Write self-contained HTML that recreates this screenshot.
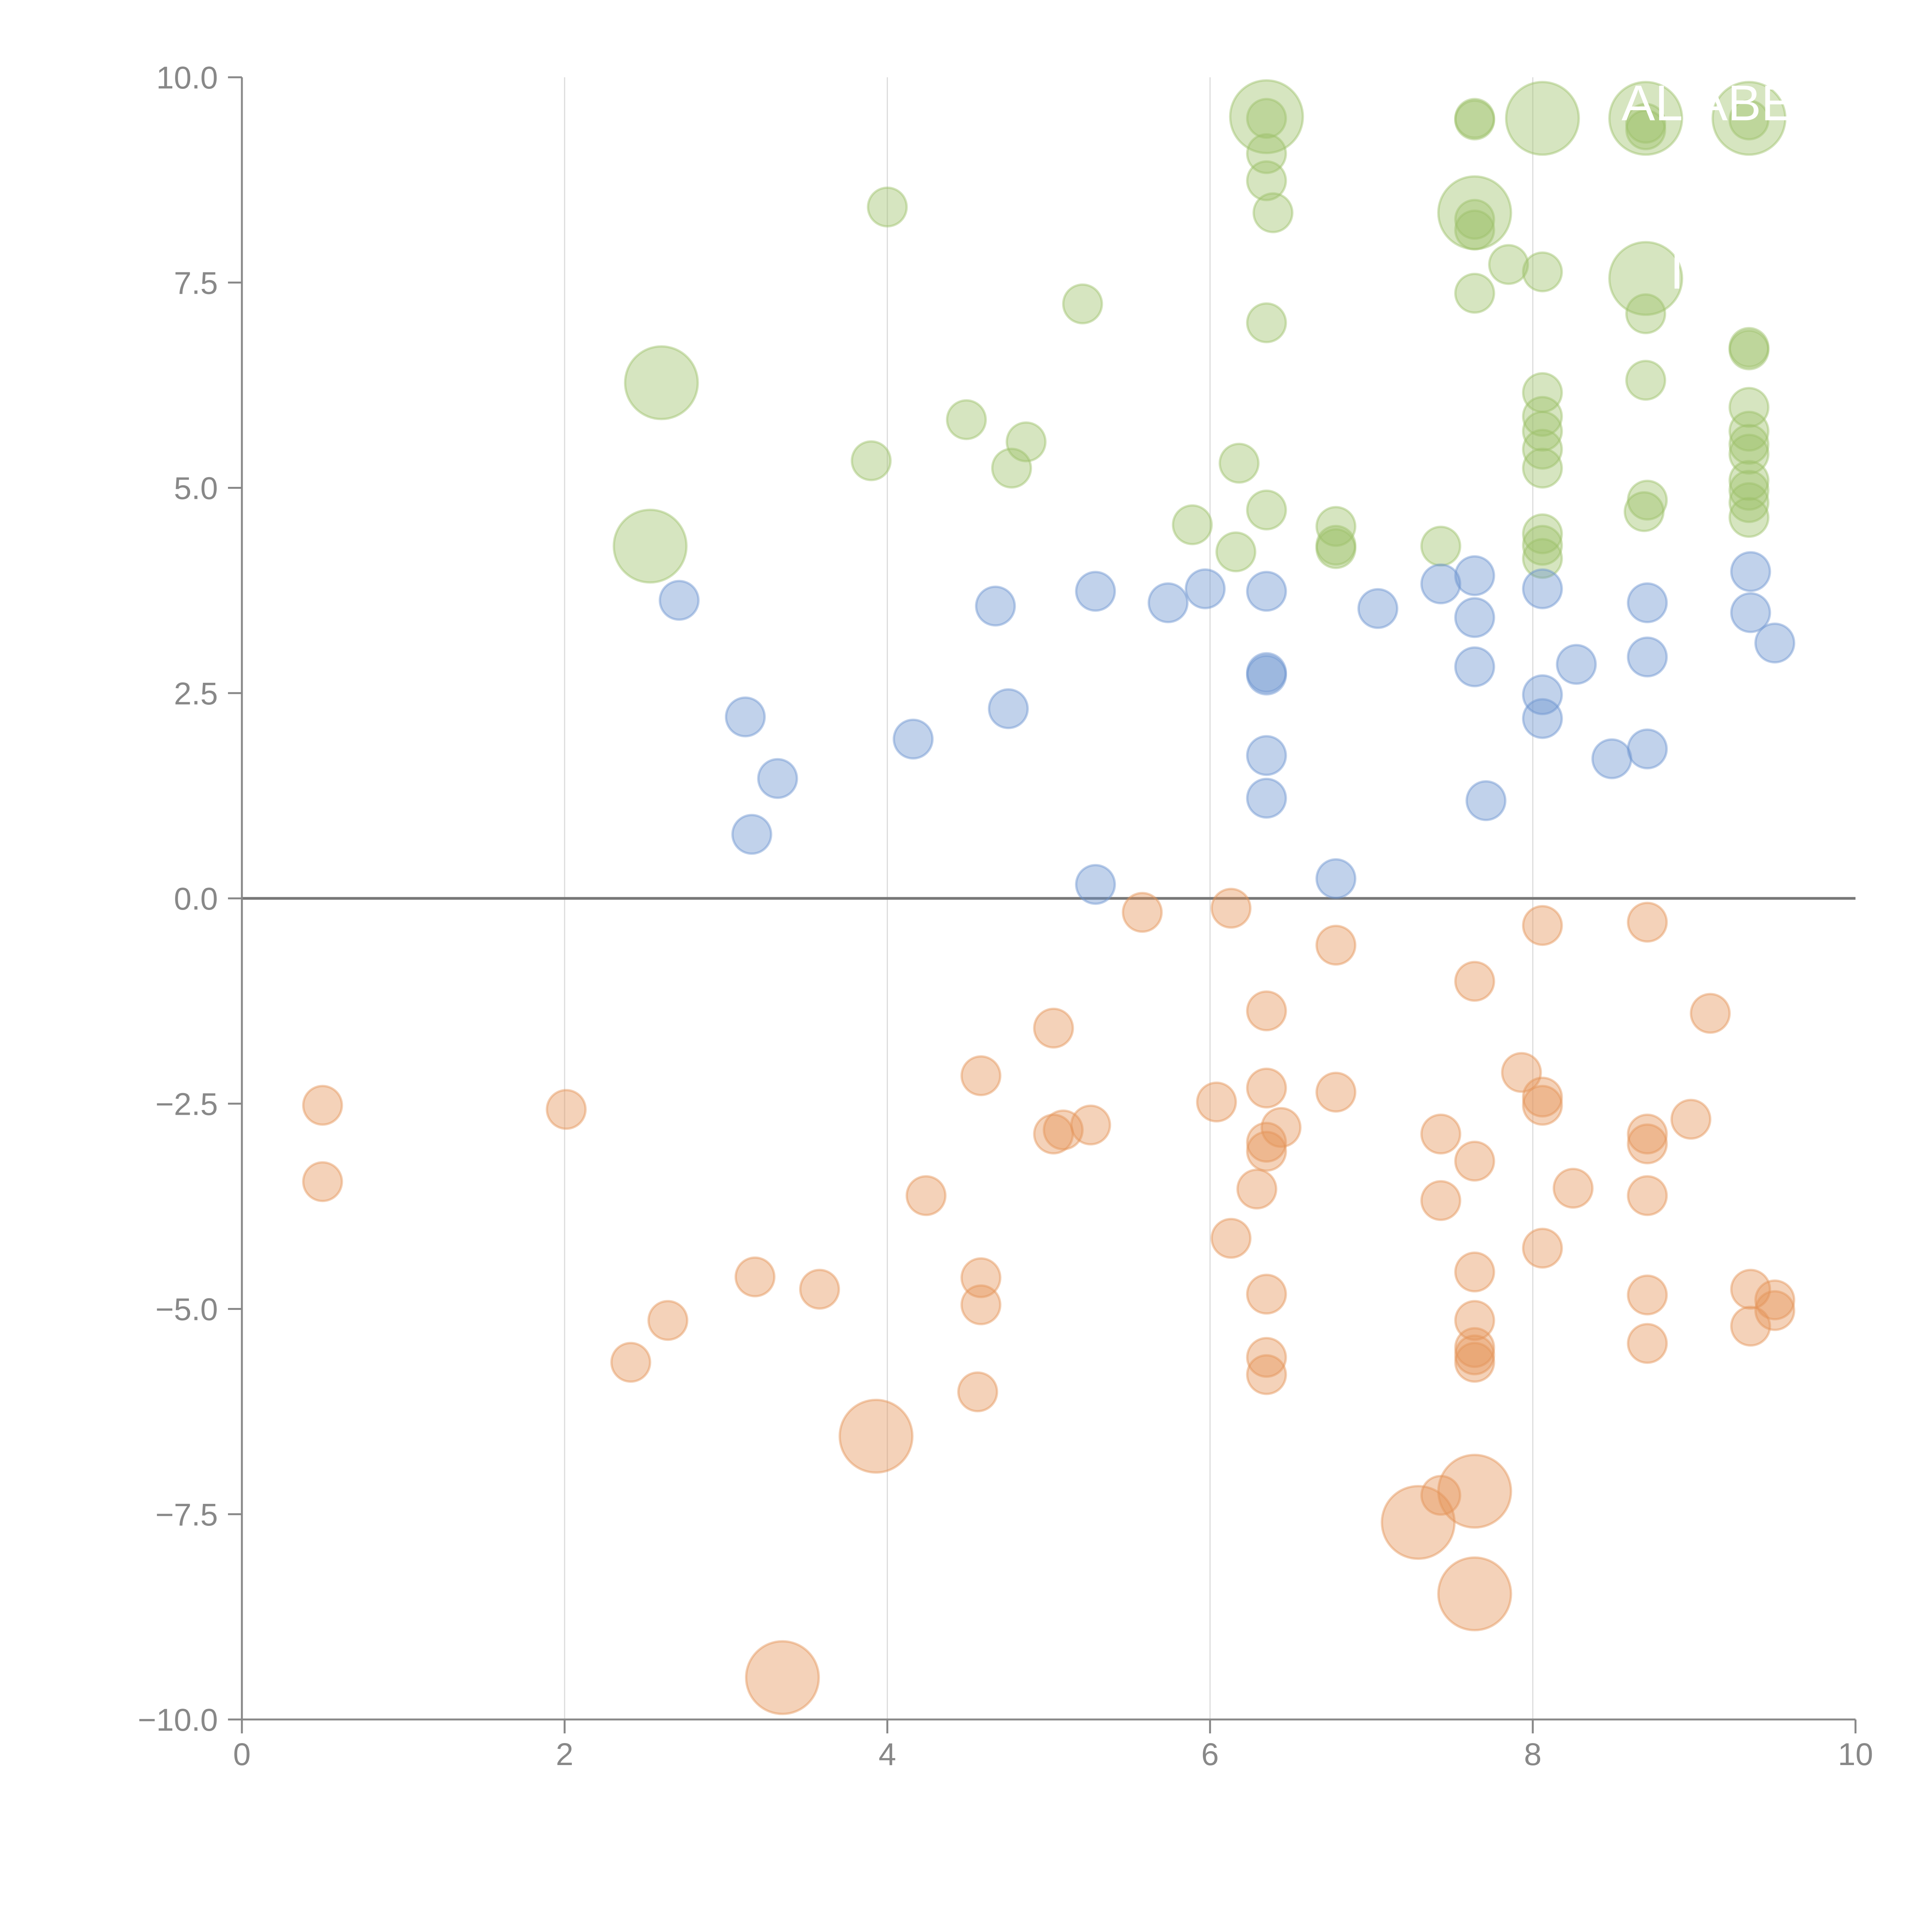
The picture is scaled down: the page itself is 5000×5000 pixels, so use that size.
<!DOCTYPE html>
<html><head><meta charset="utf-8"><style>
html,body{margin:0;padding:0;background:#fff;width:5000px;height:5000px;overflow:hidden}
svg{display:block;font-family:"Liberation Sans",sans-serif}
</style></head><body>
<svg id="chart" width="5000" height="5000" viewBox="0 0 5000 5000" xmlns="http://www.w3.org/2000/svg"></svg>
<script>
const xTicks = [0, 2, 4, 6, 8, 10];
const xTickLabels = ["0", "2", "4", "6", "8", "10"];
const yTicks = [-10, -7.5, -5, -2.5, 0, 2.5, 5, 7.5, 10];
const yTickLabels = ["\u221210.0", "\u22127.5", "\u22125.0", "\u22122.5", "0.0", "2.5", "5.0", "7.5", "10.0"];

const greenX = [6.35,6.35,6.35,6.35,6.39,7.64,7.64,8.06,8.70,8.70,8.70,9.34,9.34,4.0,7.64,7.64,7.64,7.85,8.06,8.70,7.64,5.21,6.35,8.70,2.6,9.34,9.34,8.70,8.06,9.34,8.06,8.06,4.49,4.86,3.9,4.77,6.18,9.34,9.34,9.34,8.06,8.06,9.34,9.34,9.34,9.34,8.71,8.69,6.35,5.89,6.78,6.78,6.78,7.43,6.16,8.06,8.06,8.06,2.53];
const greenY = [9.52,9.5,9.07,8.74,8.35,9.5,9.48,9.5,9.5,9.44,9.36,9.5,9.48,8.42,8.35,8.27,8.14,7.72,7.63,7.55,7.37,7.24,7.01,7.12,6.28,6.71,6.68,6.31,6.16,5.98,5.87,5.69,5.83,5.56,5.33,5.24,5.30,5.69,5.53,5.41,5.47,5.24,5.09,4.97,4.82,4.64,4.85,4.71,4.73,4.55,4.53,4.26,4.3,4.29,4.22,4.44,4.3,4.14,4.29];
const greenSize = [2,1,1,1,1,1,1,2,2,1,1,2,1,1,2,1,1,1,1,2,1,1,1,1,2,1,1,1,1,1,1,1,1,1,1,1,1,1,1,1,1,1,1,1,1,1,1,1,1,1,1,1,1,1,1,1,1,1,2];

const blueX = [2.71,3.12,3.32,3.16,4.16,4.67,4.75,5.29,5.29,5.74,5.97,6.35,6.35,6.35,6.35,6.35,6.78,7.04,7.43,7.64,7.64,7.64,7.71,8.06,8.06,8.06,8.27,8.49,8.71,8.71,8.71,9.35,9.35,9.50];
const blueY = [3.63,2.21,1.46,0.78,1.94,3.56,2.31,3.74,0.17,3.6,3.77,3.74,2.75,2.72,1.74,1.22,0.24,3.53,3.83,3.93,3.42,2.82,1.19,3.77,2.48,2.19,2.85,1.70,3.60,2.94,1.82,3.98,3.48,3.11];
const blueSize = blueX.map(() => 1);

const orangeX = [0.5,0.5,2.01,2.41,2.64,3.18,3.58,3.93,3.35,4.24,4.58,4.58,4.58,4.56,5.03,5.03,5.09,5.26,5.58,6.13,6.04,6.13,6.29,6.35,6.35,6.35,6.35,6.44,6.35,6.35,6.35,6.78,6.78,7.43,7.43,7.43,7.29,7.64,7.64,7.64,7.64,7.64,7.64,7.64,7.64,7.64,7.93,8.06,8.06,8.06,8.06,8.25,8.71,8.71,8.71,8.71,8.71,8.71,8.98,9.10,9.35,9.35,9.50,9.50];
const orangeY = [-2.52,-3.45,-2.57,-5.65,-5.14,-4.61,-4.76,-6.55,-9.49,-3.62,-2.16,-4.62,-4.95,-6.01,-1.58,-2.87,-2.82,-2.76,-0.17,-0.12,-2.48,-4.14,-3.54,-1.37,-2.31,-2.97,-3.08,-2.79,-4.82,-5.59,-5.80,-0.57,-2.36,-2.87,-3.68,-7.27,-7.60,-7.22,-8.47,-1.01,-3.20,-4.55,-5.14,-5.47,-5.56,-5.65,-2.12,-0.33,-2.42,-2.52,-4.26,-3.53,-0.29,-2.87,-2.99,-3.62,-4.83,-5.42,-2.69,-1.40,-4.76,-5.21,-4.89,-5.02];
const orangeSize = [1,1,1,1,1,1,1,2,2,1,1,1,1,1,1,1,1,1,1,1,1,1,1,1,1,1,1,1,1,1,1,1,1,1,1,1,2,2,2,1,1,1,1,1,1,1,1,1,1,1,1,1,1,1,1,1,1,1,1,1,1,1,1,1];

const X0 = 626, X1 = 4802, Y0 = 4450, Y1 = 200;
function sx(v){ return X0 + (v - 0) / 10 * (X1 - X0); }
function sy(v){ return Y0 - (v + 10) / 20 * (Y0 - Y1); }
function sr(s){ return s === 2 ? 94 : 50; }

const NS = "http://www.w3.org/2000/svg";
const svg = document.getElementById("chart");
function mk(tag, attrs, parent){
  const e = document.createElementNS(NS, tag);
  for (const k in attrs) e.setAttribute(k, attrs[k]);
  (parent || svg).appendChild(e);
  return e;
}

// gridlines
const grid = mk("g", {});


xTicks.forEach(t => {
  if (t === 0 || t === 10) return;
  const l = mk("line", {x1: sx(t), x2: sx(t), y1: Y1, y2: Y0, stroke: "#dcdcdc", "stroke-width": 3}, grid);
  
  
});

// zero line
const zl = mk("line", {x1: X0, x2: X1, y1: sy(0), y2: sy(0), stroke: "#777", "stroke-width": 7});



// axes
const ax = mk("g", {stroke: "#888", "stroke-width": 5, fill: "none"});


const yl = mk("line", {x1: X0, x2: X0, y1: Y1, y2: Y0}, ax);


const xl = mk("line", {x1: X0, x2: X1, y1: Y0, y2: Y0}, ax);



xTicks.forEach((t, i) => {
  const tk = mk("line", {x1: sx(t), x2: sx(t), y1: Y0, y2: Y0 + 36}, ax);
  
  
  const tx = mk("text", {x: sx(t), y: Y0 + 118, "text-anchor": "middle", "font-size": 82, fill: "#888"});
  tx.textContent = xTickLabels[i];
  
  
});
yTicks.forEach((t, i) => {
  const tk = mk("line", {x1: X0 - 36, x2: X0, y1: sy(t), y2: sy(t)}, ax);
  
  
  const tx = mk("text", {x: X0 - 62, y: sy(t) + 29, "text-anchor": "end", "font-size": 82, fill: "#888"});
  tx.textContent = yTickLabels[i];
  
  
});

function series(xs, ys, ss, color, name){
  const g = mk("g", {});
  
  
  xs.forEach((x, i) => {
    const c = mk("circle", {cx: sx(x), cy: sy(ys[i]), r: sr(ss[i]), fill: color, "fill-opacity": 0.42, stroke: color, "stroke-opacity": 0.45, "stroke-width": 6}, g);
    
    
  });
}
series(greenX, greenY, greenSize, "rgb(158,194,106)", "green");
series(blueX, blueY, blueSize, "rgb(108,148,208)", "blue");
series(orangeX, orangeY, orangeSize, "rgb(228,148,88)", "orange");

// white annotation labels
const labels = [["AL", 8.55, 9.5], ["ABEL", 9.0, 9.5], ["IF", 8.85, 7.45]];
labels.forEach(l => {
  const t = mk("text", {x: sx(l[1]), y: sy(l[2]) + 5, "font-size": 130, fill: "#fff"});
  t.textContent = l[0];
  
  
});
</script>
</body></html>
